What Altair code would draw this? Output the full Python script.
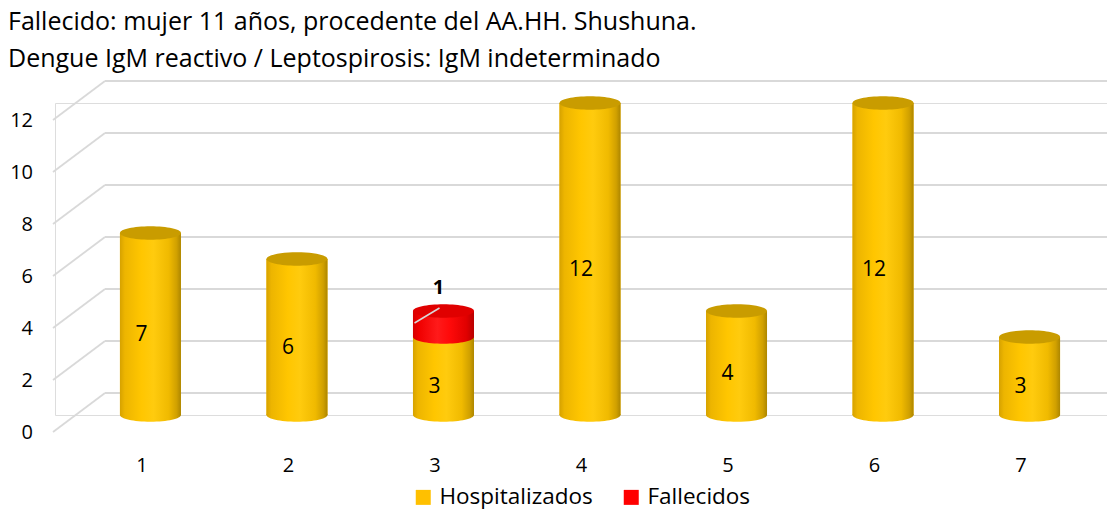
import altair as alt
import pandas as pd

# ---- data ----
categorias = ["1", "2", "3", "4", "5", "6", "7"]
hospitalizados = [7, 6, 3, 12, 4, 12, 3]
fallecidos = [0, 0, 1, 0, 0, 0, 0]
series = ["Hospitalizados", "Fallecidos"]
colores = ["#FFC000", "#FF0000"]
ticks_y = [0, 2, 4, 6, 8, 10, 12]
titulo = ["Fallecido: mujer 11 años, procedente del AA.HH. Shushuna.",
          "Dengue IgM reactivo / Leptospirosis: IgM indeterminado"]

rows = []
for c, h, f in zip(categorias, hospitalizados, fallecidos):
    rows.append({"cat": c, "serie": "Hospitalizados", "y0": 0, "y1": h, "valor": h,
                 "mid": h / 2, "top": f == 0})
    if f > 0:
        rows.append({"cat": c, "serie": "Fallecidos", "y0": h, "y1": h + f, "valor": f,
                     "mid": h + f / 2, "top": True})
df = pd.DataFrame(rows)
grid = pd.DataFrame({"v": ticks_y})

FONT = "Open Sans"
W, H = 1052, 312
BW = 61
DX = 9
ELL = "M -1 0 A 1 0.22 0 1 0 1 0 A 1 0.22 0 1 0 -1 0 Z"

XSC = alt.Scale(type="point", domain=categorias, padding=0.59)
YSC = alt.Scale(domain=[0, 12], nice=False, zero=True)

xs = alt.X("cat:N", scale=XSC,
           axis=alt.Axis(title=None, domain=False, ticks=False, grid=False, labelAngle=0,
                         labelFont=FONT, labelFontSize=20, labelColor="#000000",
                         labelPadding=40))
xn = alt.X("cat:N", scale=XSC, title=None)

def Y(field):
    return alt.Y(field, scale=YSC, axis=None)

gold = alt.Gradient(gradient="linear", x1=0, x2=1, y1=0, y2=0, stops=[
    alt.GradientStop(color="#D6A200", offset=0),
    alt.GradientStop(color="#EDB500", offset=0.08),
    alt.GradientStop(color="#FFC600", offset=0.35),
    alt.GradientStop(color="#FFCB0E", offset=0.55),
    alt.GradientStop(color="#F0BA00", offset=0.8),
    alt.GradientStop(color="#D0A000", offset=0.93),
    alt.GradientStop(color="#AD8600", offset=1)])
red = alt.Gradient(gradient="linear", x1=0, x2=1, y1=0, y2=0, stops=[
    alt.GradientStop(color="#D60000", offset=0),
    alt.GradientStop(color="#F00000", offset=0.1),
    alt.GradientStop(color="#FF1A1A", offset=0.4),
    alt.GradientStop(color="#FF0A0A", offset=0.6),
    alt.GradientStop(color="#E00000", offset=0.88),
    alt.GradientStop(color="#B80000", offset=1)])

base = alt.Chart(df)

# y labels on the front plane
ylab = alt.Chart(grid).mark_text(font=FONT, fontSize=20, color="#000000", align="right",
                                 baseline="middle", yOffset=18).encode(
    y=Y("v:Q"), x=alt.value(-22), text="v:Q")

back = alt.Chart(grid).mark_rule(color="#D9D9D9", strokeWidth=1.8, yOffset=-22).encode(
    y=Y("v:Q"), x=alt.value(50), x2=alt.value(W))
diag = alt.Chart(grid).mark_rule(color="#D9D9D9", strokeWidth=1.8, yOffset=17, y2Offset=-22).encode(
    y=Y("v:Q"), y2="v:Q", x=alt.value(-2), x2=alt.value(50))

flat = base.mark_bar(width=BW, xOffset=DX).encode(
    x=xs, y=Y("y0:Q"), y2="y1:Q",
    color=alt.Color("serie:N", scale=alt.Scale(domain=series, range=colores),
                    legend=alt.Legend(title=None, orient="none", direction="horizontal",
                                      legendX=357, legendY=383, symbolType="square",
                                      symbolSize=225, symbolStrokeWidth=0,
                                      labelFont=FONT, labelFontSize=22.5,
                                      labelColor="#000000", labelOffset=5,
                                      columnPadding=27)))

def seg(serie, grad):
    d = base.transform_filter(alt.datum.serie == serie)
    bottom = d.mark_point(shape=ELL, size=BW * BW, fill=grad, filled=True, opacity=1,
                          strokeWidth=0, xOffset=DX).encode(x=xn, y=Y("y0:Q"))
    rect = d.mark_bar(width=BW, xOffset=DX, fill=grad).encode(x=xn, y=Y("y0:Q"), y2="y1:Q")
    return [bottom, rect]

tops_h = base.transform_filter((alt.datum.serie == "Hospitalizados") & alt.datum.top).mark_point(
    shape=ELL, size=BW * BW, fill="#C99C00", filled=True, opacity=1, strokeWidth=0,
    xOffset=DX).encode(x=xn, y=Y("y1:Q"))
tops_f = base.transform_filter(alt.datum.serie == "Fallecidos").mark_point(
    shape=ELL, size=BW * BW, fill="#E00000", filled=True, opacity=1, strokeWidth=0,
    xOffset=DX).encode(x=xn, y=Y("y1:Q"))

lab_h = base.transform_filter(alt.datum.serie == "Hospitalizados").mark_text(
    font=FONT, fontSize=21, color="#000000", yOffset=11).encode(
    x=xn, y=Y("mid:Q"), text="valor:Q")
lab_f = base.transform_filter(alt.datum.serie == "Fallecidos").mark_text(
    font=FONT, fontSize=20, fontWeight="bold", color="#000000", yOffset=-23, xOffset=4).encode(
    x=xn, y=Y("y1:Q"), text="valor:Q")
leader = base.transform_filter(alt.datum.serie == "Fallecidos").mark_rule(
    color="#D8D8D8", strokeWidth=1.5, xOffset=-20, x2Offset=5, yOffset=12, y2Offset=-3).encode(
    x=xn, x2="cat:N", y=Y("y1:Q"), y2="y1:Q")

layers = [back, diag, ylab, flat] + seg("Hospitalizados", gold) + seg("Fallecidos", red) + \
         [tops_h, tops_f, lab_h, leader, lab_f]

chart = alt.layer(*layers).properties(
    width=W, height=H,
    autosize=alt.AutoSizeParams(type="none"),
    padding={"left": 47, "top": 95, "right": 0, "bottom": 94},
    title=alt.TitleParams(text=titulo, anchor="start", frame="group", font=FONT,
                          fontSize=25, fontWeight="normal", color="#000000",
                          lineHeight=37, dx=-47, offset=8),
).configure_view(stroke=None).configure(background="white")

chart.save("out.html", embed_options={"renderer": "svg", "actions": False})
